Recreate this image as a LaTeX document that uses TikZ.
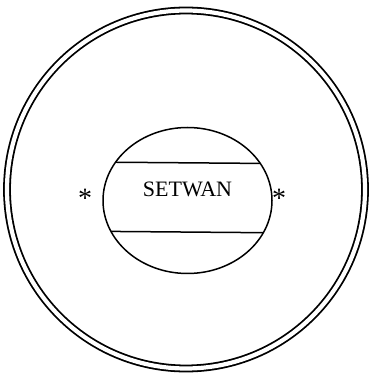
\documentclass[tikz,border=0pt]{standalone}
\usepackage{fontspec}
\setmainfont{Liberation Serif}
\usetikzlibrary{shapes.geometric}

\begin{document}
\begin{tikzpicture}[
    x=1pt, y=1pt,
    ring/.style={circle, draw=black, line width=1.8pt, double=white, double distance=4.2pt, minimum size=358pt, inner sep=0pt, outer sep=0pt},
    core/.style={ellipse, draw=black, line width=1.5pt, minimum width=169pt, minimum height=146pt, inner sep=0pt, outer sep=0pt},
    band/.style={line width=1.5pt, black},
    starmark/.style={font=\fontsize{28}{28}\selectfont, inner sep=0pt, anchor=base},
]
    \useasboundingbox (0,0) rectangle (370,378);

    % ===== Outer double ring =====
    \node[ring] (outer) at (186,188.5) {};

    % ===== Inner ellipse with band =====
    \node[core] (setwan) at (187.5,177.5) {};
    \draw[band] (setwan.152.6) -- (setwan.27.4);
    \draw[band] (setwan.202.9) -- (setwan.-23.5);
    \node[anchor=base, inner sep=0pt, font=\fontsize{22}{22}\selectfont] (label) at (187.5,181) {SETWAN};

    % ===== Marks on both sides =====
    \node[starmark] (starL) at (85,170.5) {*};
    \node[starmark] (starR) at (279,170.5) {*};

\end{tikzpicture}
\end{document}
